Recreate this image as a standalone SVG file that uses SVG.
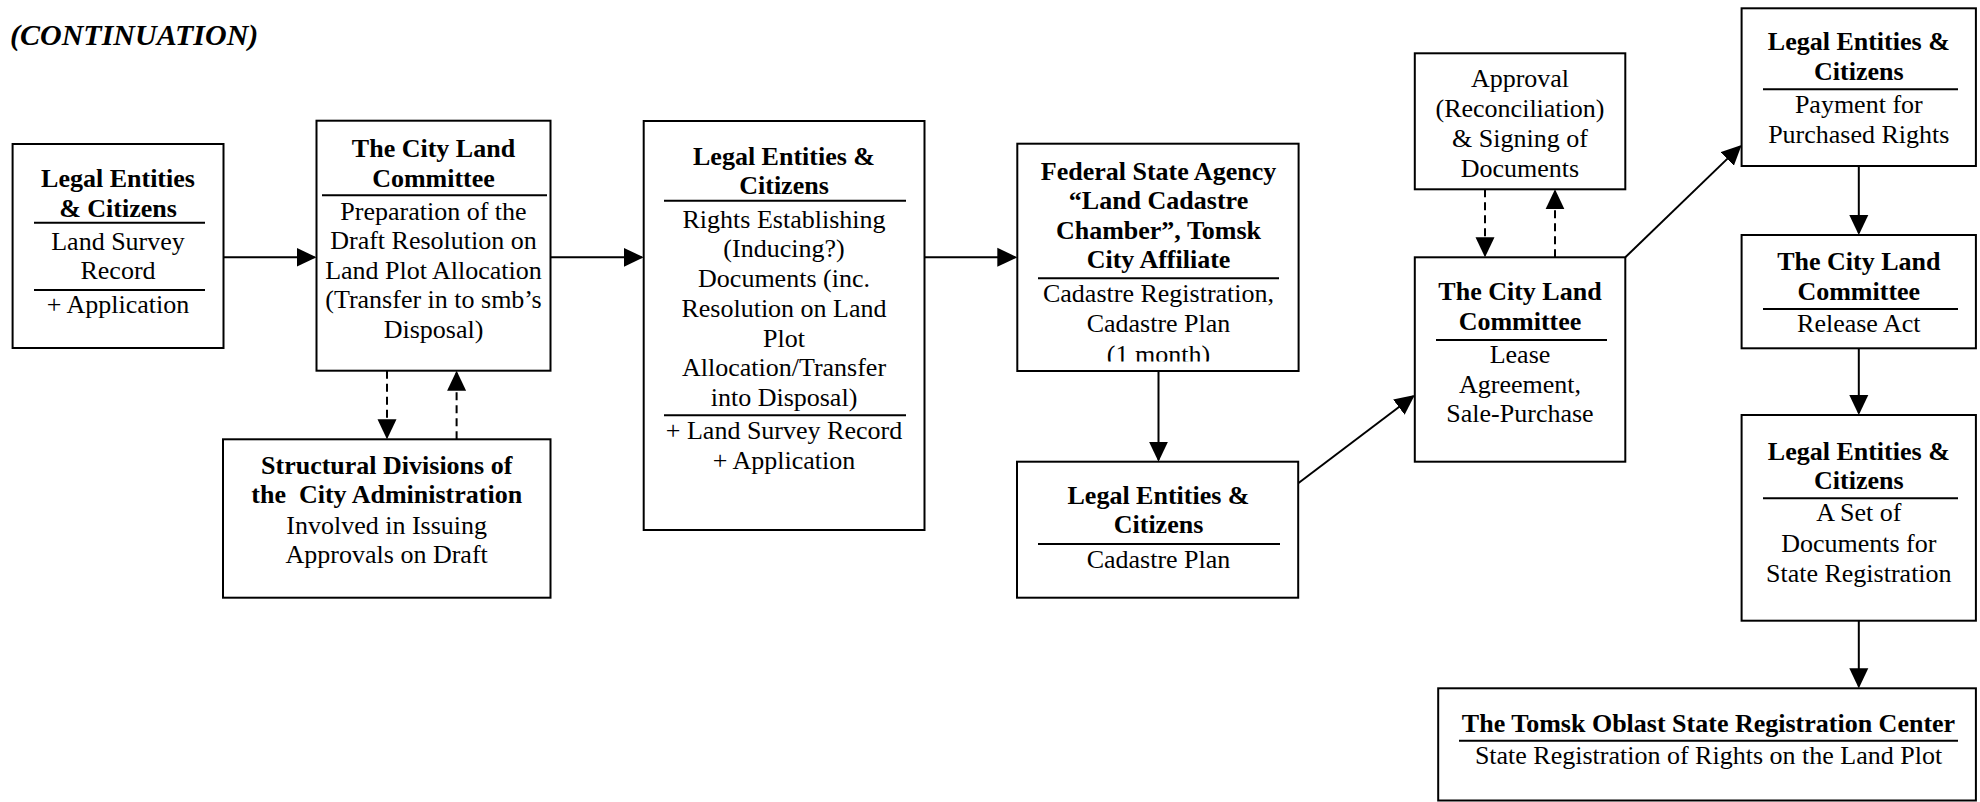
<svg xmlns="http://www.w3.org/2000/svg" width="1980" height="802" viewBox="0 0 1980 802">
<style>
text{font-family:"Liberation Serif","Times New Roman",serif;font-size:26px;fill:#000;text-anchor:middle}
.b{font-weight:bold}
.box{fill:#fff;stroke:#000;stroke-width:2}
.sep{stroke:#000;stroke-width:2}
.c{stroke:#000;stroke-width:2;fill:none}
.d{stroke:#000;stroke-width:2;fill:none;stroke-dasharray:8,5}
.title{font-weight:bold;font-style:italic;font-size:30px;text-anchor:start}
</style>
<defs>
<marker id="ah" viewBox="0 0 20 20" refX="18" refY="10" markerWidth="20" markerHeight="20" markerUnits="userSpaceOnUse" orient="auto">
<path d="M0,0.5 L20,10 L0,19.5 Z" fill="#000"/>
</marker>
<clipPath id="clip5"><rect x="1017" y="143" width="282" height="218.5"/></clipPath>
</defs>
<rect width="1980" height="802" fill="#fff"/>
<text class="title" x="10" y="45">(CONTINUATION)</text>

<g id="connectors">
<line class="c" x1="223.5" y1="257.3" x2="314.5" y2="257.3" marker-end="url(#ah)"/>
<line class="c" x1="550.5" y1="257.3" x2="641.7" y2="257.3" marker-end="url(#ah)"/>
<line class="c" x1="924.5" y1="257.3" x2="1015.3" y2="257.3" marker-end="url(#ah)"/>
<line class="c" x1="1158.5" y1="371" x2="1158.5" y2="459.7" marker-end="url(#ah)"/>
<line class="c" x1="1298.2" y1="483.3" x2="1413.2" y2="396.2" marker-end="url(#ah)"/>
<line class="c" x1="1625.3" y1="257.3" x2="1740.2" y2="146.4" marker-end="url(#ah)"/>
<line class="c" x1="1858.8" y1="166" x2="1858.8" y2="233" marker-end="url(#ah)"/>
<line class="c" x1="1858.8" y1="348.3" x2="1858.8" y2="413" marker-end="url(#ah)"/>
<line class="c" x1="1858.8" y1="620.7" x2="1858.8" y2="686.3" marker-end="url(#ah)"/>
<line class="d" x1="387" y1="370.7" x2="387" y2="437.3" marker-end="url(#ah)"/>
<line class="d" x1="456.6" y1="439.3" x2="456.6" y2="372.7" marker-end="url(#ah)"/>
<line class="d" x1="1485" y1="189.3" x2="1485" y2="255.3" marker-end="url(#ah)"/>
<line class="d" x1="1555" y1="257.3" x2="1555" y2="191.3" marker-end="url(#ah)"/>
</g>

<g id="n1">
<rect class="box" x="12.6" y="144" width="210.9" height="204"/>
<text class="b" x="118" y="186.7">Legal Entities</text>
<text class="b" x="118" y="216.7">&amp; Citizens</text>
<line class="sep" x1="34" y1="222.7" x2="205" y2="222.7"/>
<text x="118" y="250">Land Survey</text>
<text x="118" y="279.3">Record</text>
<line class="sep" x1="34" y1="290" x2="205" y2="290"/>
<text x="118" y="313.3">+ Application</text>
</g>

<g id="n2">
<rect class="box" x="316.5" y="120.7" width="234" height="250"/>
<text class="b" x="433.5" y="156.7">The City Land</text>
<text class="b" x="433.5" y="186.7">Committee</text>
<line class="sep" x1="322" y1="195.3" x2="547" y2="195.3"/>
<text x="433.5" y="219.5">Preparation of the</text>
<text x="433.5" y="249">Draft Resolution on</text>
<text x="433.5" y="278.5">Land Plot Allocation</text>
<text x="433.5" y="308">(Transfer in to smb’s</text>
<text x="433.5" y="337.5">Disposal)</text>
</g>

<g id="n3">
<rect class="box" x="643.7" y="121" width="280.8" height="409"/>
<text class="b" x="784" y="165">Legal Entities &amp;</text>
<text class="b" x="784" y="194.3">Citizens</text>
<line class="sep" x1="664" y1="200.7" x2="906" y2="200.7"/>
<text x="784" y="227.7">Rights Establishing</text>
<text x="784" y="257">(Inducing?)</text>
<text x="784" y="286.7">Documents (inc.</text>
<text x="784" y="316.5">Resolution on Land</text>
<text x="784" y="346.5">Plot</text>
<text x="784" y="376.3">Allocation/Transfer</text>
<text x="784" y="406">into Disposal)</text>
<line class="sep" x1="664" y1="415.3" x2="906" y2="415.3"/>
<text x="784" y="439">+ Land Survey Record</text>
<text x="784" y="469">+ Application</text>
</g>

<g id="n4">
<rect class="box" x="223" y="439.3" width="327.5" height="158.4"/>
<text class="b" x="386.7" y="474.3">Structural Divisions of</text>
<text class="b" x="386.7" y="503.3" xml:space="preserve">the  City Administration</text>
<text x="386.7" y="533.5">Involved in Issuing</text>
<text x="386.7" y="563">Approvals on Draft</text>
</g>

<g id="n5">
<rect class="box" x="1017.3" y="143.7" width="281.3" height="227.3"/>
<text class="b" x="1158.5" y="180">Federal State Agency</text>
<text class="b" x="1158.5" y="209.3">“Land Cadastre</text>
<text class="b" x="1158.5" y="238.7">Chamber”, Tomsk</text>
<text class="b" x="1158.5" y="268.3">City Affiliate</text>
<line class="sep" x1="1038" y1="278.3" x2="1279" y2="278.3"/>
<text x="1158.5" y="302">Cadastre Registration,</text>
<text x="1158.5" y="331.7">Cadastre Plan</text>
<text x="1158.5" y="363" clip-path="url(#clip5)">(1 month)</text>
</g>

<g id="n6">
<rect class="box" x="1017" y="461.7" width="281.2" height="136"/>
<text class="b" x="1158.5" y="504.3">Legal Entities &amp;</text>
<text class="b" x="1158.5" y="533.3">Citizens</text>
<line class="sep" x1="1038" y1="544" x2="1280" y2="544"/>
<text x="1158.5" y="568.3">Cadastre Plan</text>
</g>

<g id="n7">
<rect class="box" x="1414.8" y="257.3" width="210.5" height="204.4"/>
<text class="b" x="1520" y="300">The City Land</text>
<text class="b" x="1520" y="330">Committee</text>
<line class="sep" x1="1436" y1="340" x2="1607" y2="340"/>
<text x="1520" y="363.3">Lease</text>
<text x="1520" y="393">Agreement,</text>
<text x="1520" y="422">Sale-Purchase</text>
</g>

<g id="n8">
<rect class="box" x="1414.8" y="53.3" width="210.5" height="136"/>
<text x="1520" y="87.3">Approval</text>
<text x="1520" y="116.7">(Reconciliation)</text>
<text x="1520" y="146.7">&amp; Signing of</text>
<text x="1520" y="176.7">Documents</text>
</g>

<g id="n9">
<rect class="box" x="1741.6" y="8.3" width="234.3" height="157.7"/>
<text class="b" x="1858.8" y="50">Legal Entities &amp;</text>
<text class="b" x="1858.8" y="80">Citizens</text>
<line class="sep" x1="1763" y1="89.3" x2="1958" y2="89.3"/>
<text x="1858.8" y="113.3">Payment for</text>
<text x="1858.8" y="142.7">Purchased Rights</text>
</g>

<g id="n10">
<rect class="box" x="1741.6" y="235" width="234.3" height="113.3"/>
<text class="b" x="1858.8" y="270">The City Land</text>
<text class="b" x="1858.8" y="300">Committee</text>
<line class="sep" x1="1763" y1="309" x2="1958" y2="309"/>
<text x="1858.8" y="332.3">Release Act</text>
</g>

<g id="n11">
<rect class="box" x="1741.6" y="415" width="234.3" height="205.7"/>
<text class="b" x="1858.8" y="460">Legal Entities &amp;</text>
<text class="b" x="1858.8" y="489.3">Citizens</text>
<line class="sep" x1="1763" y1="498.3" x2="1958" y2="498.3"/>
<text x="1858.8" y="520.7">A Set of</text>
<text x="1858.8" y="551.7">Documents for</text>
<text x="1858.8" y="581.7">State Registration</text>
</g>

<g id="n12">
<rect class="box" x="1438.2" y="688.3" width="537.7" height="112.2"/>
<text class="b" x="1708.5" y="732.3">The Tomsk Oblast State Registration Center</text>
<line class="sep" x1="1459" y1="740.7" x2="1958" y2="740.7"/>
<text x="1708.5" y="764">State Registration of Rights on the Land Plot</text>
</g>
</svg>
